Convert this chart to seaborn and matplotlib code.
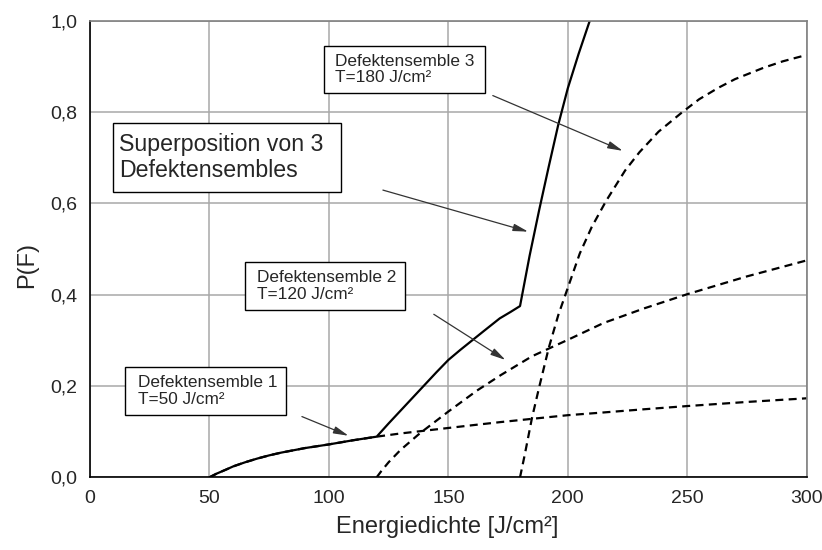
import matplotlib
matplotlib.use("Agg")
import matplotlib.pyplot as plt
import seaborn as sns
import pandas as pd
from matplotlib.ticker import MultipleLocator, FuncFormatter
from matplotlib.patches import Rectangle

# ---- data ----
ens1_x = [50, 53, 57, 60, 65, 70, 75, 80, 90, 100, 110, 120, 130, 140, 150, 160, 172, 185, 200, 215, 232, 250, 275, 300]
ens1_y = [0, 0.008, 0.017, 0.024, 0.033, 0.041, 0.048, 0.054, 0.064, 0.072, 0.081, 0.089, 0.096, 0.102, 0.108,
          0.114, 0.121, 0.128, 0.136, 0.142, 0.149, 0.156, 0.165, 0.173]
ens2_x = [120, 122, 125, 130, 138, 150, 162, 172, 185, 200, 215, 232, 250, 275, 300]
ens2_y = [0, 0.014, 0.033, 0.06, 0.096, 0.144, 0.19, 0.224, 0.265, 0.301, 0.338, 0.37, 0.401, 0.44, 0.475]
ens3_x = [180, 182, 185, 188, 192, 196, 200, 205, 210, 216, 224, 230, 238, 248, 255, 263, 270, 282, 290, 300]
ens3_y = [0, 0.05, 0.13, 0.197, 0.283, 0.355, 0.415, 0.49, 0.548, 0.605, 0.672, 0.712, 0.757, 0.80, 0.828,
          0.853, 0.872, 0.897, 0.911, 0.925]
sup_x = [50, 53, 57, 60, 65, 70, 75, 80, 90, 100, 110, 120, 125, 130, 135, 140, 145, 150, 155, 160, 165, 171.5,
         176, 180, 184, 188, 192, 196, 200, 204.5, 209.2]
sup_y = [0, 0.008, 0.017, 0.024, 0.033, 0.041, 0.048, 0.054, 0.064, 0.072, 0.081, 0.089, 0.118, 0.146, 0.174,
         0.202, 0.23, 0.257, 0.279, 0.30, 0.321, 0.348, 0.362, 0.375, 0.485, 0.585, 0.68, 0.772, 0.852, 0.927, 1.0]

x_label = "Energiedichte [J/cm²]"
y_label = "P(F)"
label1 = "Defektensemble 1\nT=50 J/cm²"
label2 = "Defektensemble 2\nT=120 J/cm²"
label3 = "Defektensemble 3\nT=180 J/cm²"
label_sup = "Superposition von 3\nDefektensembles"

sns.set_style("white")
plt.rcParams['font.family'] = ['Liberation Sans', 'DejaVu Sans']

fig = plt.figure(figsize=(8.22, 5.5), dpi=100)
ax = fig.add_axes([0.1095, 0.1322, 0.8719, 0.8302])

dash = (0, (3.6, 2.4))
for xs, ys in [(ens1_x, ens1_y), (ens2_x, ens2_y), (ens3_x, ens3_y)]:
    df = pd.DataFrame({"x": xs, "y": ys})
    sns.lineplot(data=df, x="x", y="y", ax=ax, color="black", lw=1.6, linestyle=dash, estimator=None)
df = pd.DataFrame({"x": sup_x, "y": sup_y})
sns.lineplot(data=df, x="x", y="y", ax=ax, color="black", lw=1.6, estimator=None)

ax.set_xlim(0, 300)
ax.set_ylim(0, 1.0)
ax.xaxis.set_major_locator(MultipleLocator(50))
ax.xaxis.set_minor_locator(MultipleLocator(25))
ax.yaxis.set_major_locator(MultipleLocator(0.2))
ax.yaxis.set_minor_locator(MultipleLocator(0.1))
ax.yaxis.set_major_formatter(FuncFormatter(lambda v, p: f"{v:.1f}".replace('.', ',')))
ax.xaxis.set_major_formatter(FuncFormatter(lambda v, p: f"{v:.0f}"))
ax.tick_params(which='major', direction='inout', length=12, width=1, color='black', labelsize=14, pad=3)
ax.tick_params(which='minor', direction='inout', length=6.5, width=1, color='black')
ax.grid(True, which='major', color='#a8a8a8', lw=1.1)
ax.set_axisbelow(True)

for s in ['left', 'bottom']:
    ax.spines[s].set_color('black')
    ax.spines[s].set_linewidth(1.2)
for s in ['top', 'right']:
    ax.spines[s].set_color('#808080')
    ax.spines[s].set_linewidth(1.2)

ax.set_xlabel(x_label, fontsize=17)
ax.set_ylabel(y_label, fontsize=17)
ax.xaxis.set_label_coords(0.498, -0.109)
ax.yaxis.set_label_coords(-0.088, 0.465)
ax.xaxis.label.set_va('center')
ax.yaxis.label.set_va('center')

# annotation boxes
boxes = [
    (97.9, 0.841, 165.3, 0.945, 102.5, label3, 12.4),
    (9.5, 0.625, 104.9, 0.777, 12.3, label_sup, 16.7),
    (64.9, 0.366, 131.9, 0.472, 69.7, label2, 12.4),
    (14.8, 0.136, 82.0, 0.242, 20.0, label1, 12.4),
]
for x0, y0, x1, y1, tx, txt, fs in boxes:
    ax.add_patch(Rectangle((x0, y0), x1 - x0, y1 - y0, facecolor='white', edgecolor='black', lw=1.0, zorder=5))
    ax.text(tx, (y0 + y1) / 2, txt, fontsize=fs, ha='left', va='center', zorder=6, linespacing=1.15)

arrows = [
    ((168.6, 0.836), (223.0, 0.715)),
    ((122.6, 0.629), (183.4, 0.538)),
    ((143.9, 0.357), (173.9, 0.257)),
    ((88.7, 0.133), (108.2, 0.091)),
]
for (sx, sy), (ex, ey) in arrows:
    ax.annotate('', xy=(ex, ey), xytext=(sx, sy),
                arrowprops=dict(arrowstyle='-|>,head_length=0.9,head_width=0.22', color='#333333',
                                lw=0.9, shrinkA=0, shrinkB=0), zorder=7)

fig.savefig("out.png", dpi=100)
